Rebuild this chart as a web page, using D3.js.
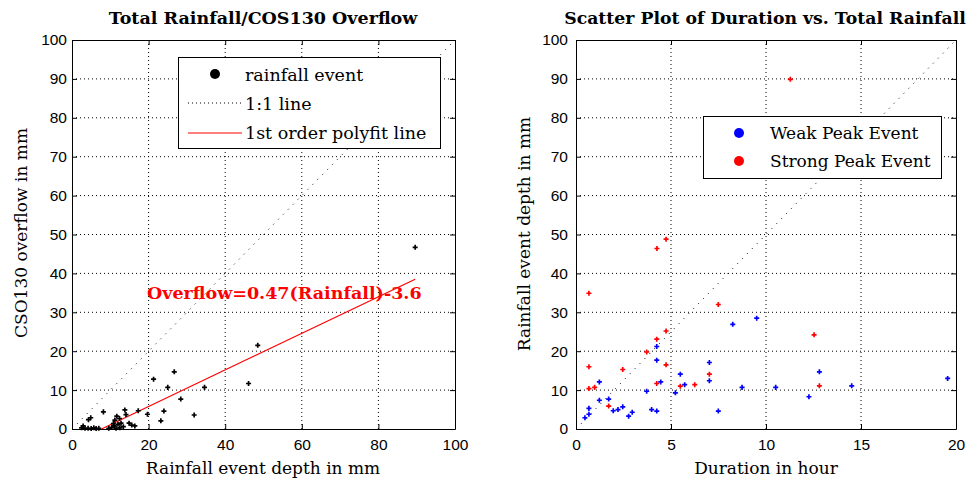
<!DOCTYPE html>
<html>
<head>
<meta charset="utf-8">
<script src="https://cdn.jsdelivr.net/npm/d3@7"></script>
<style>
  body { margin: 0; background: #fff; }
  .tick text { font-family: "Liberation Sans", Arial, sans-serif; font-size: 15.5px; fill: #000; }
  .serif { font-family: "DejaVu Serif", serif; fill: #000; }
  .title { font-weight: bold; font-size: 17.5px; }
  .label { font-size: 17px; }
  .legend-text { font-size: 17.5px; }
</style>
</head>
<body>
<svg id="chart" width="968" height="480"></svg>
<script>
// left panel: rainfall depth vs CSO130 overflow (mm)
const rainDepth = [89.6, 48.5, 46.1, 26.7, 21.3, 25.0, 34.6, 28.4, 31.9, 24.0, 23.2, 19.7, 14.1, 17.3, 8.2,
  4.9, 4.3, 2.9, 2.5, 3.4, 4.2, 5.0, 5.7, 6.3, 7.0, 9.6, 10.4, 11.0, 11.7, 11.2, 12.4, 12.0, 10.8, 12.8,
  13.4, 14.9, 15.6, 16.4, 13.8, 11.5, 12.5];
const overflow = [46.7, 21.5, 11.7, 14.7, 12.8, 10.7, 10.7, 7.7, 3.6, 4.6, 2.1, 3.8, 3.7, 4.7, 4.4,
  2.9, 2.4, 0.8, 0.3, 0.2, 0.2, 0.1, 0.3, 0.1, 0.2, 0.2, 0.4, 0.8, 3.3, 2.3, 2.7, 1.2, 1.4, 1.5,
  0.6, 1.5, 1.0, 0.8, 4.9, 0.2, 0.3];
const fitSlope = 0.47;
const fitIntercept = -3.6;
const fitRange = [7.7, 89.6];
const leftXTicks = [0, 20, 40, 60, 80, 100];
const yTicks = [0, 10, 20, 30, 40, 50, 60, 70, 80, 90, 100];

// right panel: duration (hour) vs rainfall depth (mm)
const weakDuration = [9.51, 8.25, 4.25, 4.25, 7.02, 5.49, 7.02, 1.23, 4.46, 5.72, 8.74, 5.23, 3.72, 1.23, 1.72,
  0.68, 1.96, 2.21, 2.46, 2.77, 2.96, 3.98, 4.25, 7.49, 0.68, 0.47, 12.81, 10.51, 12.26, 14.51, 19.56];
const weakDepth = [28.5, 26.9, 21.2, 17.7, 17.1, 14.1, 12.4, 12.1, 12.1, 11.4, 10.7, 9.3, 9.7, 7.4, 7.7,
  5.3, 4.7, 5.0, 5.7, 3.3, 4.3, 5.0, 4.6, 4.6, 3.8, 2.9, 14.7, 10.7, 8.3, 11.1, 13.0];
const strongDuration = [0.68, 7.49, 4.74, 4.25, 3.72, 0.68, 2.46, 4.74, 7.02, 4.25, 5.49, 6.25, 0.68, 0.98,
  1.72, 12.53, 12.81, 11.28, 4.74, 4.26];
const strongDepth = [34.9, 32.0, 25.2, 23.1, 19.8, 16.0, 15.3, 16.5, 14.1, 11.7, 11.0, 11.4, 10.4, 10.7,
  5.9, 24.2, 11.1, 89.9, 48.8, 46.4];
const rightXTicks = [0, 5, 10, 15, 20];

let svg = d3.select("#chart");

function makePanel(box, xDomain, xTicks, yDomain, yTicksList, yPad) {
  let x = d3.scaleLinear().domain(xDomain).range([box.left, box.right]);
  let y = d3.scaleLinear().domain(yDomain).range([box.bottom, box.top]);
  let g = svg.append("g");

/* grid */
  g.selectAll(".gridx").data(xTicks.slice(1, -1)).enter().append("line")
    .attr("x1", d => x(d)).attr("x2", d => x(d))
    .attr("y1", box.top).attr("y2", box.bottom)
    .attr("stroke", "#000").attr("stroke-dasharray", "1,3");
  g.selectAll(".gridy").data(yTicksList.slice(1, -1)).enter().append("line")
    .attr("y1", d => y(d)).attr("y2", d => y(d))
    .attr("x1", box.left).attr("x2", box.right)
    .attr("stroke", "#000").attr("stroke-dasharray", "1,3");

/* axes, ticks inside on all four sides */
  g.append("g").attr("transform", "translate(0," + box.bottom + ")")
    .call(d3.axisBottom(x).tickValues(xTicks).tickSizeInner(-5).tickSizeOuter(0).tickPadding(10));
  g.append("g").attr("transform", "translate(0," + box.top + ")")
    .call(d3.axisTop(x).tickValues(xTicks).tickSizeInner(-5).tickSizeOuter(0).tickFormat(""));
  g.append("g").attr("transform", "translate(" + box.left + ",0)")
    .call(d3.axisLeft(y).tickValues(yTicksList).tickSizeInner(-5).tickSizeOuter(0).tickPadding(yPad));
  g.append("g").attr("transform", "translate(" + box.right + ",0)")
    .call(d3.axisRight(y).tickValues(yTicksList).tickSizeInner(-5).tickSizeOuter(0).tickFormat(""));

  return {x: x, y: y, g: g};
}

let cross = d3.symbol().type(d3.symbolCross).size(14);

/* left panel */
let boxL = {left: 72, right: 455, top: 40, bottom: 429};
let L = makePanel(boxL, [0, 100], leftXTicks, [0, 100], yTicks, 5);

L.g.append("line")
  .attr("x1", L.x(0)).attr("y1", L.y(0))
  .attr("x2", L.x(100)).attr("y2", L.y(100))
  .attr("stroke", "#000").attr("stroke-width", 1).attr("stroke-dasharray", "1,6");

L.g.append("line")
  .attr("x1", L.x(fitRange[0])).attr("y1", L.y(fitSlope * fitRange[0] + fitIntercept))
  .attr("x2", L.x(fitRange[1])).attr("y2", L.y(fitSlope * fitRange[1] + fitIntercept))
  .attr("stroke", "#ff0000").attr("stroke-width", 1.2);

L.g.selectAll(".pt").data(rainDepth).enter().append("path")
  .attr("d", cross)
  .attr("transform", (d, i) => "translate(" + L.x(d) + "," + L.y(overflow[i]) + ")")
  .attr("fill", "#000");

L.g.append("text").text("Overflow=0.47(Rainfall)-3.6")
  .attr("class", "serif")
  .attr("x", 147).attr("y", 299)
  .style("font-weight", "bold").style("font-size", "17.5px")
  .style("fill", "#ff0000");

/* left legend */
let legL = L.g.append("g");
legL.append("rect").attr("x", 178.5).attr("y", 57.5).attr("width", 262).attr("height", 91)
  .attr("fill", "#fff").attr("stroke", "#000");
legL.append("circle").attr("cx", 215).attr("cy", 74).attr("r", 5).attr("fill", "#000");
legL.append("line").attr("x1", 188).attr("x2", 242).attr("y1", 103).attr("y2", 103)
  .attr("stroke", "#000").attr("stroke-dasharray", "1,3");
legL.append("line").attr("x1", 188).attr("x2", 242).attr("y1", 133).attr("y2", 133)
  .attr("stroke", "#ff0000").attr("stroke-width", 1.2);
legL.append("text").text("rainfall event").attr("class", "serif legend-text").attr("x", 245).attr("y", 81);
legL.append("text").text("1:1 line").attr("class", "serif legend-text").attr("x", 245).attr("y", 110);
legL.append("text").text("1st order polyfit line").attr("class", "serif legend-text").attr("x", 245).attr("y", 139);

/* left texts */
svg.append("text").text("Total Rainfall/COS130 Overflow")
  .attr("class", "serif title").attr("x", 263).attr("y", 24).attr("text-anchor", "middle");
svg.append("text").text("Rainfall event depth in mm")
  .attr("class", "serif label").attr("x", 263).attr("y", 474).attr("text-anchor", "middle");
svg.append("text").text("CSO130 overflow in mm")
  .attr("class", "serif label").attr("text-anchor", "middle")
  .attr("transform", "translate(27,233) rotate(-90)");

/* right panel */
let boxR = {left: 576, right: 956, top: 40, bottom: 429};
let R = makePanel(boxR, [0, 20], rightXTicks, [0, 100], yTicks, 8);

R.g.append("line")
  .attr("x1", R.x(0)).attr("y1", R.y(0))
  .attr("x2", R.x(20)).attr("y2", R.y(100))
  .attr("stroke", "#000").attr("stroke-width", 1).attr("stroke-dasharray", "1,6");

R.g.selectAll(".weak").data(weakDuration).enter().append("path")
  .attr("d", cross)
  .attr("transform", (d, i) => "translate(" + R.x(d) + "," + R.y(weakDepth[i]) + ")")
  .attr("fill", "#0000ff");
R.g.selectAll(".strong").data(strongDuration).enter().append("path")
  .attr("d", cross)
  .attr("transform", (d, i) => "translate(" + R.x(d) + "," + R.y(strongDepth[i]) + ")")
  .attr("fill", "#ff0000");

/* right legend */
let legR = R.g.append("g");
legR.append("rect").attr("x", 703.5).attr("y", 116.5).attr("width", 238).attr("height", 62)
  .attr("fill", "#fff").attr("stroke", "#000");
legR.append("circle").attr("cx", 739).attr("cy", 133).attr("r", 5).attr("fill", "#0000ff");
legR.append("circle").attr("cx", 739).attr("cy", 161).attr("r", 5).attr("fill", "#ff0000");
legR.append("text").text("Weak Peak Event").attr("class", "serif legend-text").attr("x", 770).attr("y", 139)
  .style("font-size", "17px");
legR.append("text").text("Strong Peak Event").attr("class", "serif legend-text").attr("x", 770).attr("y", 167)
  .style("font-size", "17px");

/* right texts */
svg.append("text").text("Scatter Plot of Duration vs. Total Rainfall")
  .attr("class", "serif title").attr("x", 765).attr("y", 24).attr("text-anchor", "middle")
  .style("font-size", "17.3px");
svg.append("text").text("Duration in hour")
  .attr("class", "serif label").attr("x", 766).attr("y", 474).attr("text-anchor", "middle");
svg.append("text").text("Rainfall event depth in mm")
  .attr("class", "serif label").attr("text-anchor", "middle")
  .attr("transform", "translate(530,234) rotate(-90)");
</script>
</body>
</html>
